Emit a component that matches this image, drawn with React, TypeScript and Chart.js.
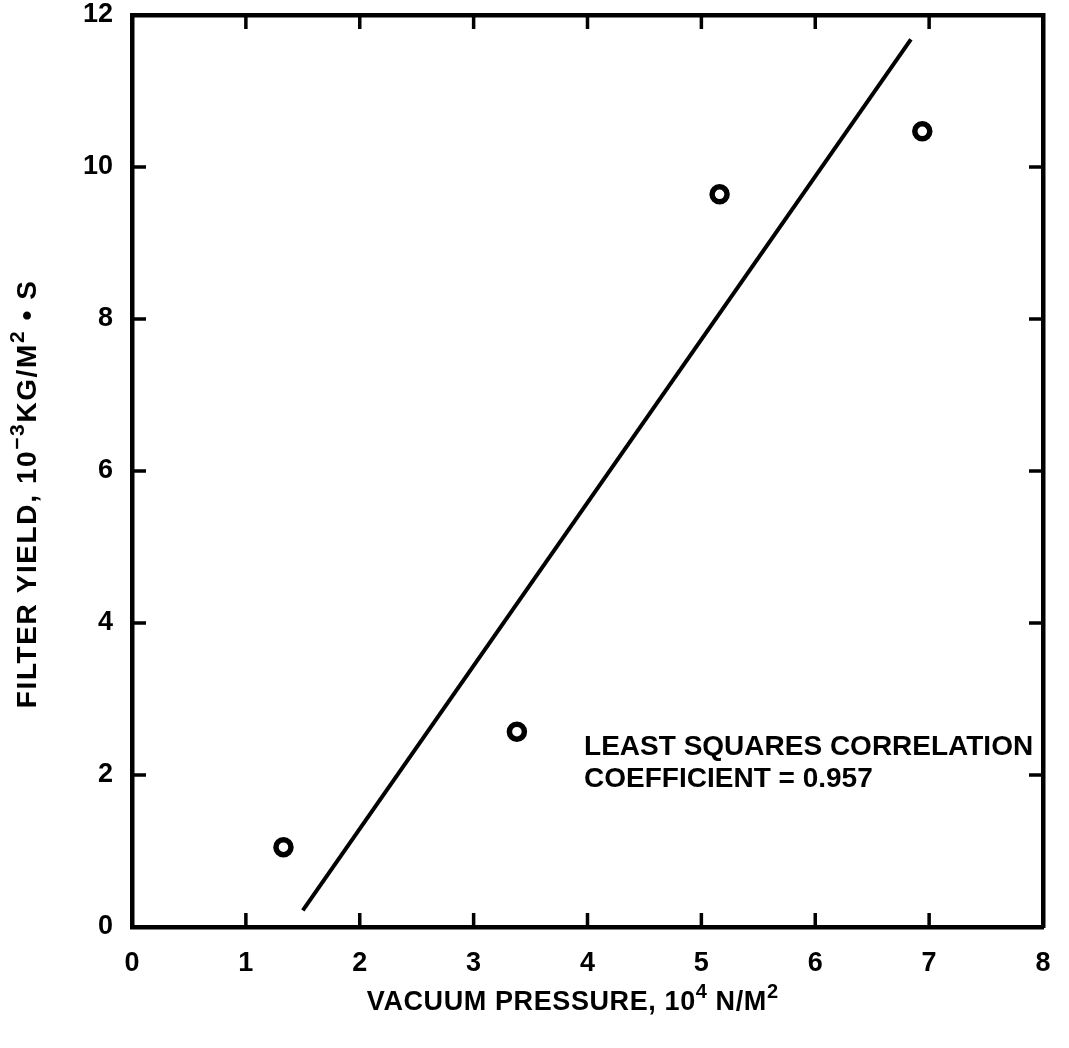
import React, { useEffect, useRef } from "react";
import { Chart, registerables } from "chart.js";

Chart.register(...registerables);

// Data
const pressureX = [1.33, 3.38, 5.16, 6.94];
const yieldY = [1.05, 2.57, 9.64, 10.47];
const fitX = [1.5, 6.84];
const fitY = [0.22, 11.68];
const xTickValues = [0, 1, 2, 3, 4, 5, 6, 7, 8];
const yTickValues = [0, 2, 4, 6, 8, 10, 12];
const xTitleParts = [
  { t: "VACUUM PRESSURE, 10", sup: false },
  { t: "4", sup: true },
  { t: " N/M", sup: false },
  { t: "2", sup: true },
];
const yTitleParts = [
  { t: "FILTER YIELD, 10", sup: false },
  { t: "\u22123", sup: true },
  { t: "KG/M", sup: false },
  { t: "2", sup: true },
  { t: " \u2022 S", sup: false },
];
const noteLines = ["LEAST SQUARES CORRELATION", "COEFFICIENT = 0.957"];

const FONT = "'Liberation Sans', Arial, sans-serif";

function drawRich(ctx: any, parts: { t: string; sup: boolean }[], cx: number, cy: number, size: number, spacing: number) {
  const fontFor = (sup: boolean) => `bold ${sup ? Math.round(size * 0.75) : size}px ${FONT}`;
  ctx.letterSpacing = `${spacing}px`;
  let total = 0;
  const widths = parts.map((p) => {
    ctx.font = fontFor(p.sup);
    const w = ctx.measureText(p.t).width;
    total += w;
    return w;
  });
  let x = cx - total / 2;
  ctx.textAlign = "left";
  ctx.textBaseline = "alphabetic";
  const base = cy + size * 0.36;
  parts.forEach((p, i) => {
    ctx.font = fontFor(p.sup);
    ctx.fillText(p.t, x, p.sup ? base - size * 0.42 : base);
    x += widths[i];
  });
  ctx.letterSpacing = "0px";
}

const decorPlugin = {
  id: "decor",
  afterDatasetsDraw(chart: any) {
    const { ctx, chartArea } = chart;
    const xs = chart.scales.x;
    const ys = chart.scales.y;
    ctx.save();
    ctx.strokeStyle = "#000";
    ctx.lineWidth = 3.5;
    ctx.lineCap = "butt";
    const len = 14;
    xTickValues.slice(1, -1).forEach((v) => {
      const px = xs.getPixelForValue(v);
      ctx.beginPath();
      ctx.moveTo(px, chartArea.bottom);
      ctx.lineTo(px, chartArea.bottom - len);
      ctx.moveTo(px, chartArea.top);
      ctx.lineTo(px, chartArea.top + len);
      ctx.stroke();
    });
    yTickValues.slice(1, -1).forEach((v) => {
      const py = ys.getPixelForValue(v);
      ctx.beginPath();
      ctx.moveTo(chartArea.left, py);
      ctx.lineTo(chartArea.left + len, py);
      ctx.moveTo(chartArea.right, py);
      ctx.lineTo(chartArea.right - len, py);
      ctx.stroke();
    });

    // annotation
    ctx.fillStyle = "#000";
    ctx.font = `bold 28px ${FONT}`;
    ctx.textAlign = "left";
    ctx.textBaseline = "middle";
    const nx = xs.getPixelForValue(3.97);
    const ny = ys.getPixelForValue(2.36);
    noteLines.forEach((t, i) => ctx.fillText(t, nx, ny + i * 32));

    // axis titles
    drawRich(ctx, xTitleParts, xs.getPixelForValue(3.87), chartArea.bottom + 73, 27, 0.6);
    ctx.save();
    ctx.translate(26, ys.getPixelForValue(5.7));
    ctx.rotate(-Math.PI / 2);
    drawRich(ctx, yTitleParts, 0, 0, 28, 1.6);
    ctx.restore();
    ctx.restore();
  },
};

export default function App() {
  const ref = useRef<HTMLCanvasElement | null>(null);
  useEffect(() => {
    if (!ref.current) return;
    const tickFont = { family: FONT, size: 27, weight: "bold" as const };
    const zeroPad = (s: any) => {
      s.paddingTop = 0;
      s.paddingBottom = 0;
      s.paddingLeft = 0;
      s.paddingRight = 0;
    };
    const chart = new Chart(ref.current, {
      type: "scatter",
      data: {
        datasets: [
          {
            type: "line",
            data: fitX.map((x, i) => ({ x, y: fitY[i] })),
            borderColor: "#000",
            borderWidth: 4,
            pointRadius: 0,
            fill: false,
          },
          {
            type: "scatter",
            data: pressureX.map((x, i) => ({ x, y: yieldY[i] })),
            pointRadius: 7.5,
            pointBorderWidth: 5.5,
            pointBorderColor: "#000",
            pointBackgroundColor: "#fff",
          },
        ],
      },
      options: {
        animation: false,
        responsive: false,
        devicePixelRatio: 1,
        layout: { padding: { top: 15, right: 26, left: 0, bottom: 0 } },
        plugins: { legend: { display: false }, tooltip: { enabled: false } },
        scales: {
          x: {
            type: "linear",
            position: "bottom",
            min: 0,
            max: 8,
            afterBuildTicks: (s: any) => {
              s.ticks = xTickValues.map((v) => ({ value: v }));
            },
            ticks: { font: tickFont, color: "#000", padding: 20, maxRotation: 0 },
            grid: { display: false, drawTicks: false },
            border: { display: true, color: "#000", width: 4.5 },
            afterFit: (s: any) => {
              s.height = 121;
              zeroPad(s);
            },
          },
          x2: {
            type: "linear",
            position: "top",
            min: 0,
            max: 8,
            ticks: { display: false },
            grid: { display: false, drawTicks: false },
            border: { display: true, color: "#000", width: 4.5 },
            afterFit: (s: any) => {
              s.height = 0;
              zeroPad(s);
            },
          },
          y: {
            type: "linear",
            position: "left",
            min: 0,
            max: 12,
            afterBuildTicks: (s: any) => {
              s.ticks = yTickValues.map((v) => ({ value: v }));
            },
            ticks: { font: tickFont, color: "#000", padding: 19 },
            grid: { display: false, drawTicks: false },
            border: { display: true, color: "#000", width: 4.5 },
            afterFit: (s: any) => {
              s.width = 132;
              zeroPad(s);
            },
          },
          y2: {
            type: "linear",
            position: "right",
            min: 0,
            max: 12,
            ticks: { display: false },
            grid: { display: false, drawTicks: false },
            border: { display: true, color: "#000", width: 4.5 },
            afterFit: (s: any) => {
              s.width = 0;
              zeroPad(s);
            },
          },
        },
      },
      plugins: [decorPlugin],
    });
    return () => chart.destroy();
  }, []);
  return (
    <div style={{ position: "fixed", left: 0, top: 0, width: 1069, height: 1048, background: "#fff" }}>
      <canvas ref={ref} width={1069} height={1048} style={{ width: 1069, height: 1048 }} />
    </div>
  );
}
